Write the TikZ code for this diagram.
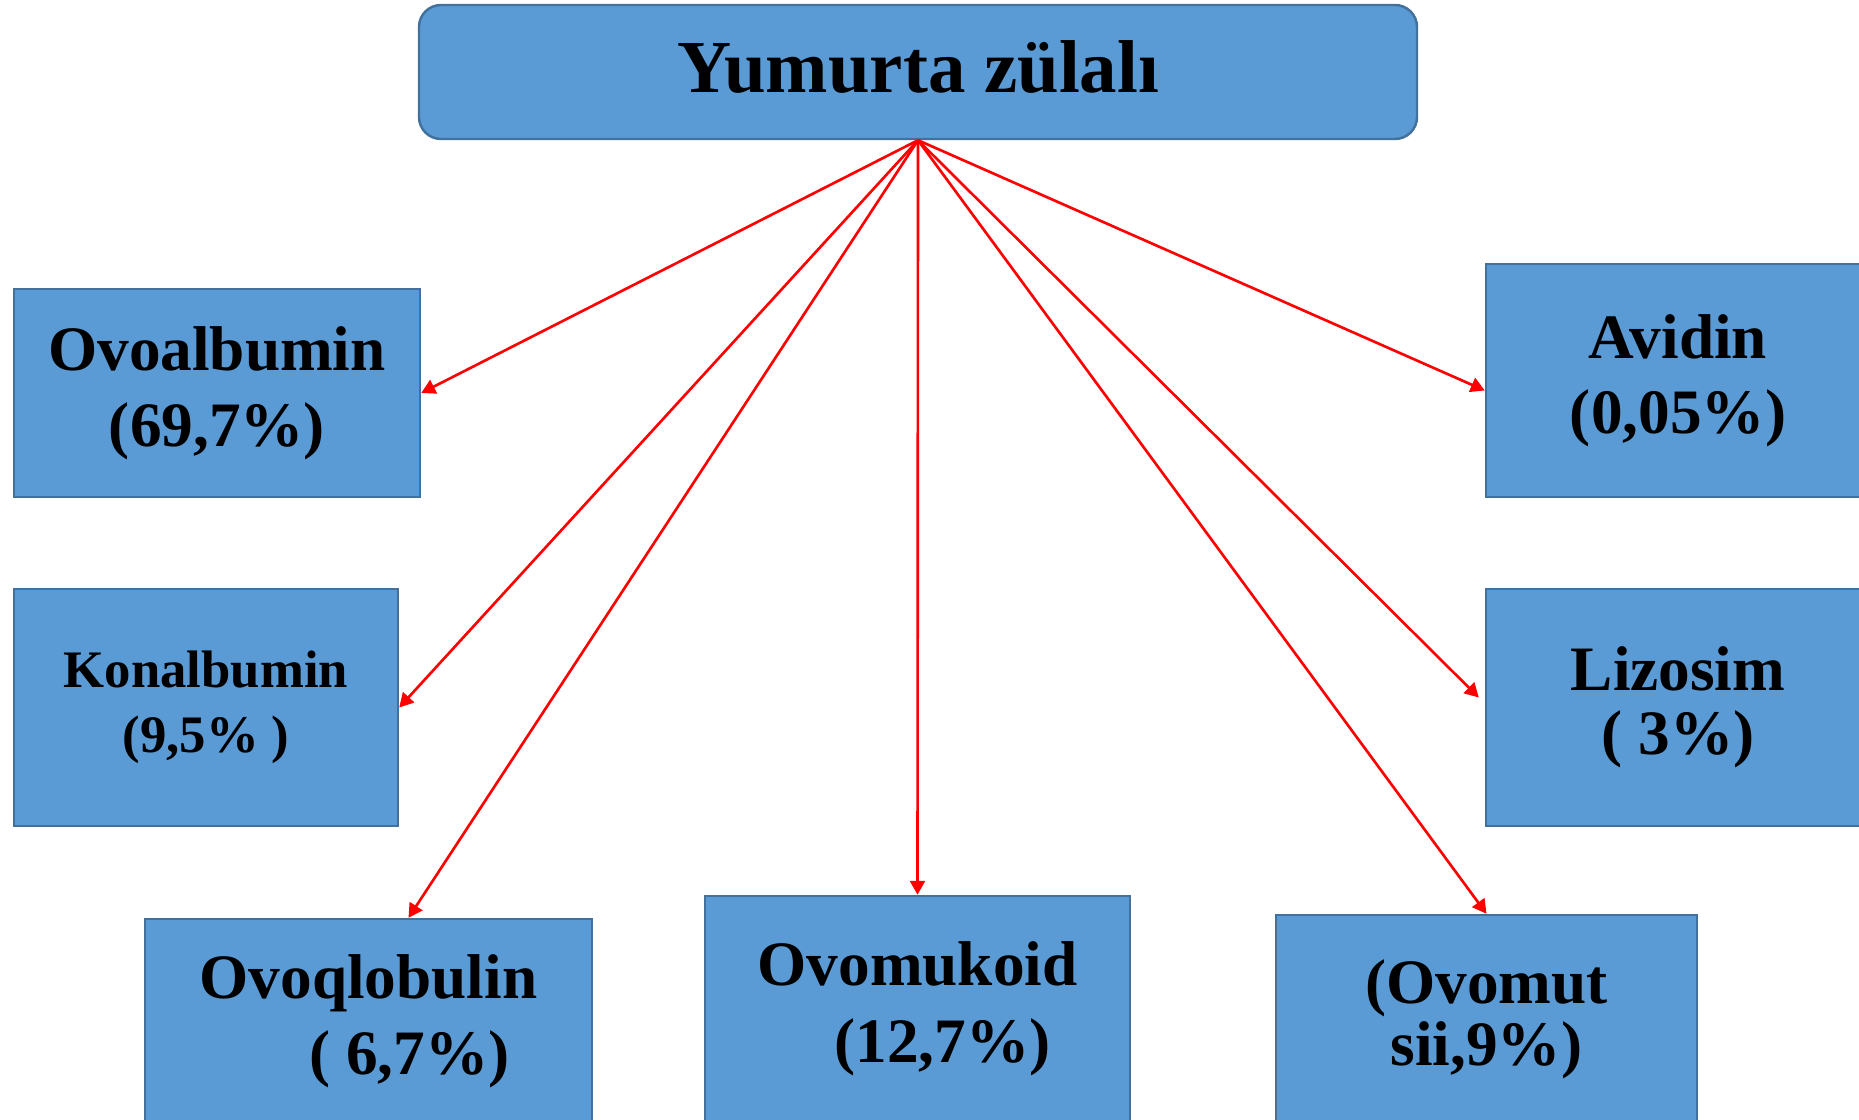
\documentclass[tikz,border=0pt]{standalone}
\usepackage{fontspec}
\setmainfont{Liberation Serif}
\usetikzlibrary{arrows.meta}
\definecolor{boxblue}{HTML}{5B9BD5}
\definecolor{boxline}{HTML}{41719C}

\begin{document}
\begin{tikzpicture}[
    box/.style={draw=boxline, fill=boxblue, line width=0.7pt, inner sep=0pt},
    lbl/.style={align=center, font=\bfseries\fontsize{18}{21.6}\selectfont},
    arr/.style={draw=red, line width=0.75pt, -{Triangle[length=1.4mm, width=1.5mm]}}
]

    \useasboundingbox (0, 0) rectangle (18.59, 11.19);

    \node[box, rounded corners=0.22cm, minimum width=9.98cm, minimum height=1.34cm] (egg) at (9.18, 10.47) {};
    \node[lbl, font=\bfseries\fontsize{21.3}{25}\selectfont] at (9.18, 10.52) {Yumurta zülalı};

    \node[box, minimum width=4.06cm, minimum height=2.08cm] (ovoalb) at (2.17, 7.26) {};
    \node[lbl] at (ovoalb) {Ovoalbumin\\(69,7\%)};

    \node[box, minimum width=3.84cm, minimum height=2.37cm] (konalb) at (2.06, 4.115) {};
    \node[lbl, font=\bfseries\fontsize{15}{18.5}\selectfont] at (konalb) {Konalbumin\\(9,5\% )};

    \node[box, minimum width=3.84cm, minimum height=2.33cm] (avidin) at (16.78, 7.385) {};
    \node[lbl, font=\bfseries\fontsize{18}{21.3}\selectfont] at (avidin) {Avidin\\(0,05\%)};

    \node[box, minimum width=3.84cm, minimum height=2.37cm] (lizosim) at (16.78, 4.115) {};
    \node[lbl, font=\bfseries\fontsize{18}{18.2}\selectfont] at (lizosim) {Lizosim\\( 3\%)};

    \node[box, minimum width=4.47cm, minimum height=2.3cm] (ovoq) at (3.685, 0.85) {};
    \node[lbl] at (3.685, 0.98) {Ovoqlobulin\\\hspace*{0.82cm}( 6,7\%)};

    \node[box, minimum width=4.25cm, minimum height=2.53cm] (ovomuk) at (9.175, 0.965) {};
    \node[lbl, font=\bfseries\fontsize{18}{21.9}\selectfont] at (9.175, 1.10) {Ovomukoid\\\hspace*{0.5cm}(12,7\%)};

    \node[box, minimum width=4.21cm, minimum height=2.34cm] (ovomut) at (14.865, 0.87) {};
    \node[lbl, font=\bfseries\fontsize{18}{17.6}\selectfont] at (14.865, 1.00) {(Ovomut\\sii,9\%)};

    \draw[arr] (egg.south) -- (ovoalb.east);
    \draw[arr] (egg.south) -- (konalb.east);
    \draw[arr] (egg.south) -- ([xshift=0.4cm]ovoq.north);
    \draw[arr] (egg.south) -- (ovomuk.north);
    \draw[arr] (egg.south) -- (ovomut.north);
    \draw[arr] (egg.south) -- ([yshift=-0.1cm]avidin.west);
    \draw[arr] (egg.south) -- ([xshift=-0.06cm, yshift=0.1cm]lizosim.west);

\end{tikzpicture}
\end{document}
